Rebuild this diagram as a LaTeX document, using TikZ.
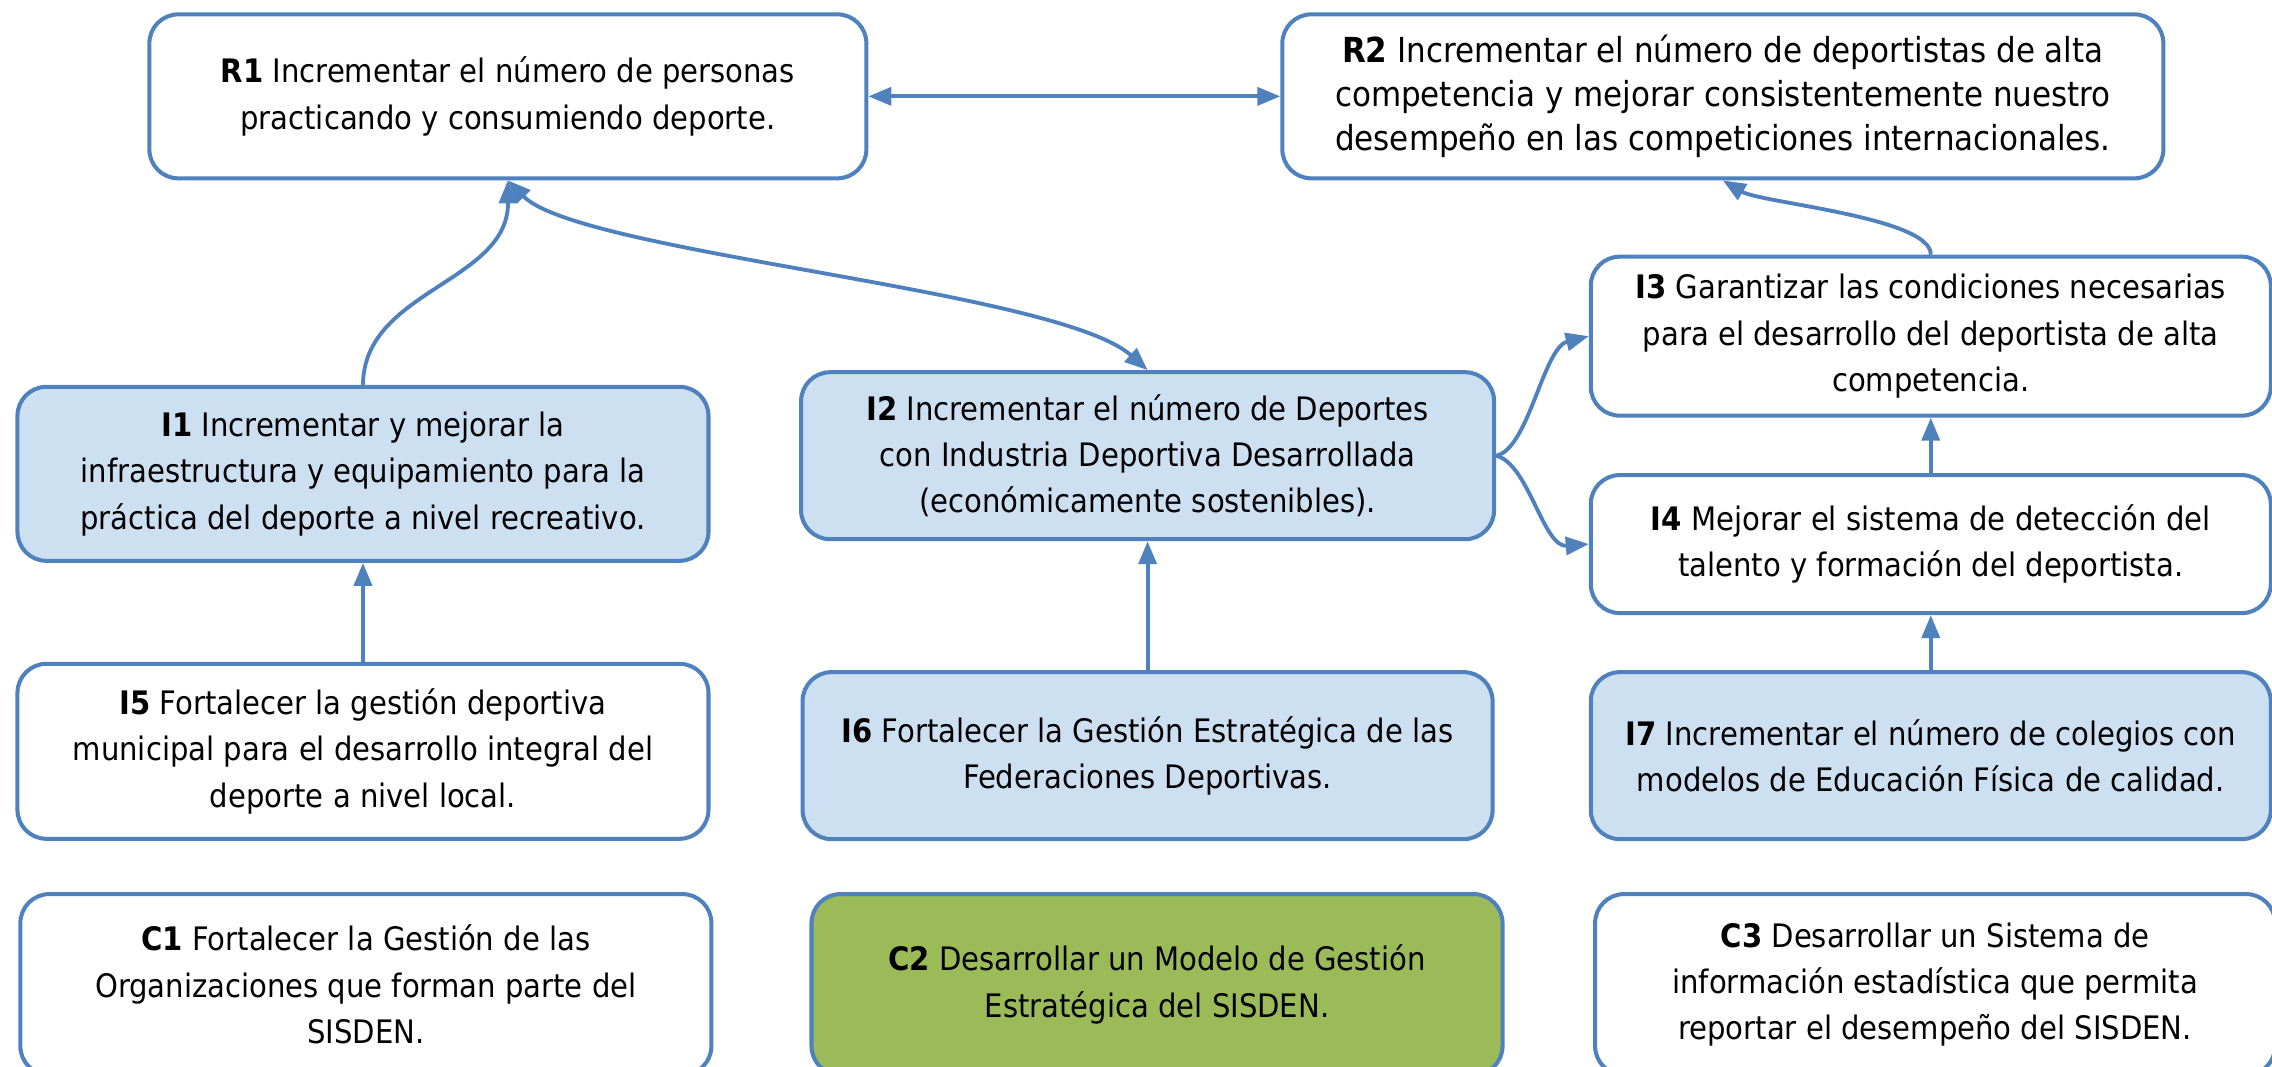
\documentclass[tikz,border=0pt]{standalone}
\usepackage{fontspec}
\setmainfont{DejaVu Sans Condensed}
\usepackage{xcolor}
\usetikzlibrary{arrows.meta}

\definecolor{boxblue}{RGB}{79,129,189}
\definecolor{lightblue}{RGB}{205,224,242}
\definecolor{leafgreen}{RGB}{155,187,89}

\tikzset{
  goal/.style={draw=boxblue, line width=1.15pt, rounded corners=2.9mm, align=center, inner sep=0pt, font=\fontsize{9.2}{13.2}\selectfont},
  goalfill/.style={goal, fill=lightblue},
  goalgreen/.style={goal, fill=leafgreen},
  link/.style={draw=boxblue, line width=1.1pt, -{Triangle[width=1.8mm,length=2.3mm]}},
  twoway/.style={link, {Triangle[width=1.8mm,length=2.3mm]}-{Triangle[width=1.8mm,length=2.3mm]}}
}

\begin{document}
\begin{tikzpicture}[x=0.1449mm, y=-0.1449mm]
\useasboundingbox (0,0) rectangle (1568,736);
\node[goal, minimum width=71.7mm, minimum height=16.4mm] (R1) at (350.5,66.5) {\textbf{R1} Incrementar el número de personas\\practicando y consumiendo deporte.};
\node[goal, minimum width=88.1mm, minimum height=16.4mm, font=\fontsize{9.8}{12.5}\selectfont] (R2) at (1189,66.5) {\textbf{R2} Incrementar el número de deportistas de alta\\competencia y mejorar consistentemente nuestro\\desempeño en las competiciones internacionales.};
\node[goalfill, minimum width=69.1mm, minimum height=17.4mm] (I1) at (250.5,327) {\textbf{I1} Incrementar y mejorar la\\infraestructura y equipamiento para la\\práctica del deporte a nivel recreativo.};
\node[goalfill, minimum width=69.3mm, minimum height=16.7mm] (I2) at (792,314.5) {\textbf{I2} Incrementar el número de Deportes\\con Industria Deportiva Desarrollada\\(económicamente sostenibles).};
\node[goal, minimum width=68mm, minimum height=15.9mm] (I3) at (1332.5,232) {\textbf{I3} Garantizar las condiciones necesarias\\para el desarrollo del deportista de alta\\competencia.};
\node[goal, minimum width=68mm, minimum height=13.8mm] (I4) at (1332.5,375.5) {\textbf{I4} Mejorar el sistema de detección del\\talento y formación del deportista.};
\node[goal, minimum width=69.1mm, minimum height=17.5mm] (I5) at (250.5,518.5) {\textbf{I5} Fortalecer la gestión deportiva\\municipal para el desarrollo integral del\\deporte a nivel local.};
\node[goalfill, minimum width=69mm, minimum height=16.7mm] (I6) at (792,521.5) {\textbf{I6} Fortalecer la Gestión Estratégica de las\\Federaciones Deportivas.};
\node[goalfill, minimum width=68mm, minimum height=16.7mm] (I7) at (1332.5,521.5) {\textbf{I7} Incrementar el número de colegios con\\modelos de Educación Física de calidad.};
\node[goal, minimum width=69.1mm, minimum height=18.1mm] (C1) at (252.5,679.5) {\textbf{C1} Fortalecer la Gestión de las\\Organizaciones que forman parte del\\SISDEN.};
\node[goalgreen, minimum width=69.1mm, minimum height=18.1mm] (C2) at (798.5,679.5) {\textbf{C2} Desarrollar un Modelo de Gestión\\Estratégica del SISDEN.};
\node[goal, minimum width=68mm, minimum height=18.1mm] (C3) at (1335.5,679.5) {\textbf{C3} Desarrollar un Sistema de\\información estadística que permita\\reportar el desempeño del SISDEN.};

\draw[twoway] (R1.east) -- (R2.west);
\draw[link] (I1.north) .. controls (251,200) and (351,195) .. (R1.south);
\draw[twoway] (R1.south) .. controls (400,175) and (730,200) .. (I2.north);
\draw[link] (I3.north) .. controls (1333,150) and (1215,140) .. (R2.south);
\draw[link] (I2.east) .. controls (1055,310) and (1065,240) .. (I3.west);
\draw[link] (I2.east) .. controls (1055,320) and (1065,378) .. (I4.west);
\draw[link] (I4.north) -- (I3.south);
\draw[link] (I5.north) -- (I1.south);
\draw[link] (I6.north) -- (I2.south);
\draw[link] (I7.north) -- (I4.south);
\end{tikzpicture}
\end{document}
